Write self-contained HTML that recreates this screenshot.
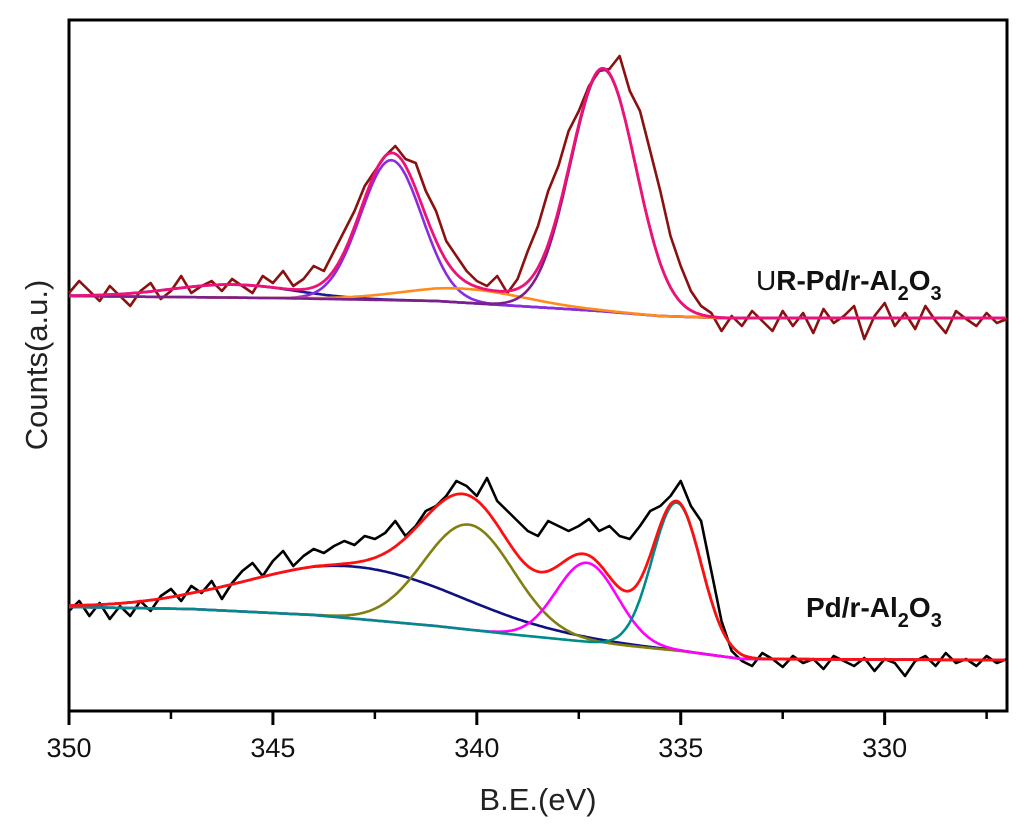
<!DOCTYPE html>
<html><head><meta charset="utf-8"><style>
body{margin:0;background:#fff;}
svg text{font-family:"Liberation Sans",Arial,sans-serif;}
</style></head><body>
<svg id="chart" width="1024" height="820" xmlns="http://www.w3.org/2000/svg">
<rect x="69" y="20" width="938" height="691" fill="none" stroke="#000" stroke-width="3"/>
<g id="xticks"></g>
<g id="series"></g>
<text x="538" y="810" font-size="31" text-anchor="middle" fill="#222">B.E.(eV)</text>
<text transform="translate(47,365) rotate(-90)" font-size="31" text-anchor="middle" fill="#222">Counts(a.u.)</text>
<text x="756" y="290" font-size="28" fill="#111">U<tspan font-weight="bold">R-Pd/r-Al<tspan font-size="20" dy="10">2</tspan><tspan dy="-10">O</tspan><tspan font-size="20" dy="10">3</tspan></tspan></text>
<text x="806" y="617" font-size="28" font-weight="bold" fill="#111">Pd/r-Al<tspan font-size="20" dy="10">2</tspan><tspan dy="-10">O</tspan><tspan font-size="20" dy="10">3</tspan></text>
</svg>
<script>
const xTicks=[350,345,340,335,330];
const xMinor=[347.5,342.5,337.5,332.5,327.5];
const rawTop=[418,430,420,410,425,415,405,420,428,412,420,435,418,425,430,420,432,425,418,435,428,440,425,432,445,440,460,480,500,525,540,555,565,552,548,520,500,470,455,440,430,425,435,418,432,460,485,520,545,580,600,625,640,642,655,620,600,560,520,475,445,420,405,398,380,395,385,400,390,380,400,385,398,378,402,388,395,405,372,395,408,385,398,382,405,390,378,400,392,385,398,388,392];
const rawBot=[100,110,95,108,92,105,95,110,100,115,122,110,125,118,130,112,128,140,148,135,150,160,145,155,162,158,165,170,166,175,172,178,190,175,185,200,205,215,230,225,215,233,210,200,190,180,175,190,185,180,185,192,180,185,175,172,185,200,205,215,230,205,190,140,90,60,50,45,58,52,44,55,48,52,42,55,50,45,53,40,52,48,35,50,55,45,58,48,52,45,55,48,52];
const bgTopE=[350,345,341,339,337,335.5,334,327];
const bgTopV=[415,413,410,405,400,395,393,393];
const bgBotE=[350,347,344,341,339,337,335,333.5,327];
const bgBotV=[104,102,96,85,76,68,60,52,51];
const topCenters=[346,342.1,340.3,336.9];
const topHeights=[13,140,14,242];
const topWidths=[1.5,0.75,1.5,0.8];
const topColors=['#1a1a9a','#8a2be2','#ff8c1a','#7b1f8a'];
const botCenters=[343,340.2,337.3,335.1];
const botHeights=[52,105,79,148];
const botWidths=[2.6,1.1,0.75,0.6];
const botColors=['#101080','#808010','#ff00ff','#008b8b'];
const X0=350,X1=327,PX0=69,PX1=1007,Y0=0,Y1=691,PY0=711,PY1=20;
const xs=e=>PX0+(X0-e)/(X0-X1)*(PX1-PX0);
const ys=v=>PY0-(v-Y0)/(Y1-Y0)*(PY0-PY1);
const NS='http://www.w3.org/2000/svg';
const ax=document.getElementById('xticks'), sg=document.getElementById('series');
xTicks.forEach(t=>{
 const l=document.createElementNS(NS,'line');
 l.setAttribute('x1',xs(t));l.setAttribute('x2',xs(t));l.setAttribute('y1',711);l.setAttribute('y2',725);l.setAttribute('stroke','#000');l.setAttribute('stroke-width','3');
 
 
 ax.appendChild(l);
 const tx=document.createElementNS(NS,'text');
 tx.setAttribute('x',xs(t));tx.setAttribute('y',757);tx.setAttribute('font-size','27');tx.setAttribute('text-anchor','middle');tx.setAttribute('fill','#111');
 tx.textContent=t;
 
 
 ax.appendChild(tx);
});
xMinor.forEach(t=>{
 const l=document.createElementNS(NS,'line');
 l.setAttribute('x1',xs(t));l.setAttribute('x2',xs(t));l.setAttribute('y1',711);l.setAttribute('y2',719);l.setAttribute('stroke','#000');l.setAttribute('stroke-width','2.5');
 
 
 ax.appendChild(l);
});
function interp(E,V,e){
 for(let i=0;i<E.length-1;i++){if(e<=E[i]&&e>=E[i+1]){const f=(E[i]-e)/(E[i]-E[i+1]);return V[i]+f*(V[i+1]-V[i]);}}
 return V[V.length-1];
}
const g=(e,c,h,w)=>h*Math.exp(-((e-c)*(e-c))/(2*w*w));
function pathFrom(pts){return pts.map((p,i)=>(i?'L':'M')+xs(p[0]).toFixed(1)+','+ys(p[1]).toFixed(1)).join(' ');}
function addPath(d,color,w,name){
 const p=document.createElementNS(NS,'path');
 p.setAttribute('d',d);p.setAttribute('fill','none');p.setAttribute('stroke',color);p.setAttribute('stroke-width',w);p.setAttribute('stroke-linejoin','round');
 
 
 sg.appendChild(p);
}
const grid=[];for(let e=350;e>=327;e-=0.05)grid.push(e);
function drawSpectrum(raw,rawColor,bgE,bgV,C,H,W,cols,envColor,prefix){
 addPath(pathFrom(raw.map((v,i)=>[350-i*0.25,v])),rawColor,2.6,prefix+'-raw-data');
 C.forEach((c,k)=>{addPath(pathFrom(grid.map(e=>[e,interp(bgE,bgV,e)+g(e,c,H[k],W[k])])),cols[k],2.6,prefix+'-component-'+(k+1));});
 addPath(pathFrom(grid.map(e=>{let s=interp(bgE,bgV,e);C.forEach((c,k)=>s+=g(e,c,H[k],W[k]));return [e,s];})),envColor,2.8,prefix+'-envelope-fit');
}
drawSpectrum(rawTop,'#8b1010',bgTopE,bgTopV,topCenters,topHeights,topWidths,topColors,'#ee1177','ur-pd');
drawSpectrum(rawBot,'#000',bgBotE,bgBotV,botCenters,botHeights,botWidths,botColors,'#ff1010','pd');
</script>
</body></html>
